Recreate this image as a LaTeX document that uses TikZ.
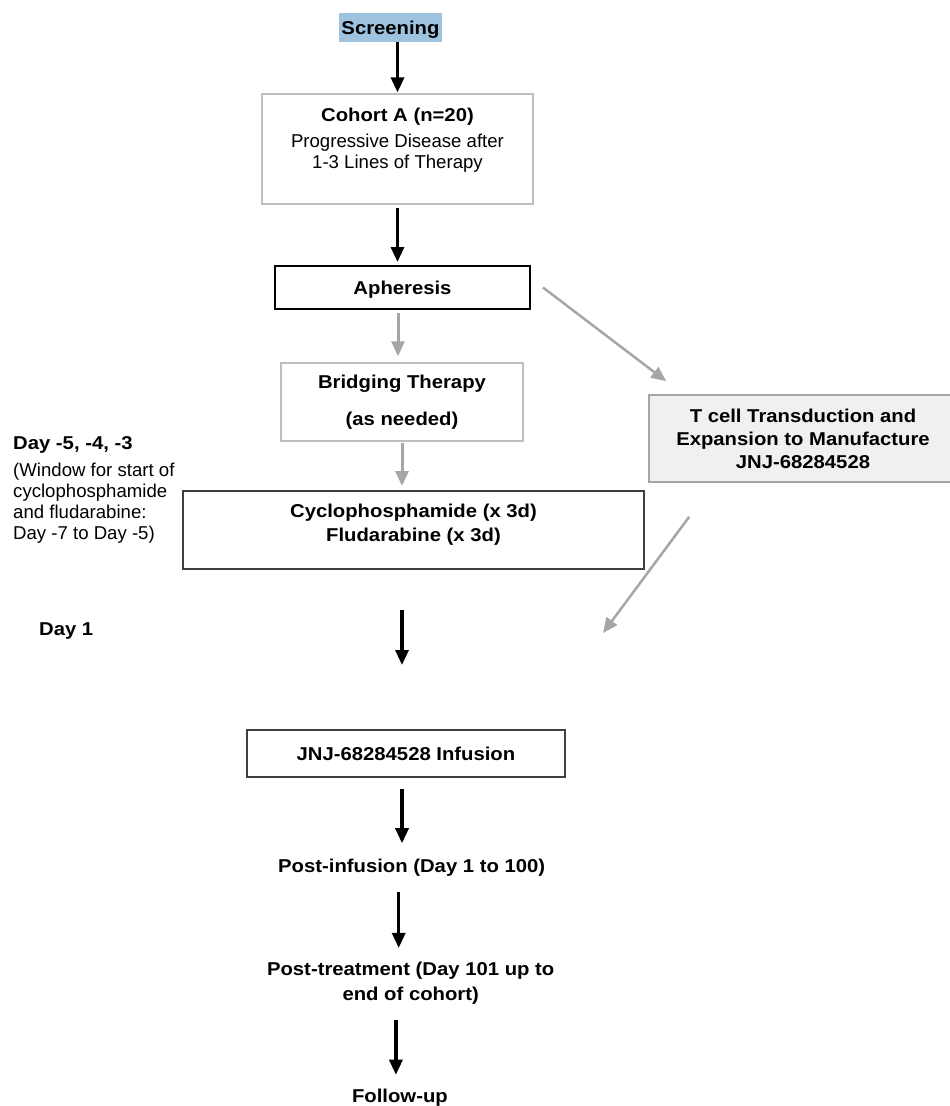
\documentclass[tikz,border=0pt]{standalone}
\usepackage{fontspec}
\setmainfont{Liberation Sans}[BoldFeatures={FakeStretch=1.09}]
\usetikzlibrary{arrows.meta}
\definecolor{scrblue}{HTML}{9EC3DE}
\definecolor{boxgray}{HTML}{BFBFBF}
\definecolor{arrgray}{HTML}{A6A6A6}
\definecolor{tcellfill}{HTML}{F0F0F0}
\newcommand{\fsz}{\fontsize{18.6}{21}\selectfont}
\begin{document}
\begin{tikzpicture}[x=1pt, y=-1pt, node distance={114.6pt},
    main/.style = {draw, rectangle, inner sep=0pt, align=center, font=\fsz\bfseries},
    txt/.style = {inner sep=0pt, align=center, font=\fsz\bfseries},
    arr/.style = {line width=3.2pt, -{Triangle[width=13pt, length=15pt]}},
    garr/.style = {arr, draw=arrgray, line width=3pt}]
      \useasboundingbox (0,0) rectangle (950,1106);

      \node[main, draw=none, fill=scrblue, minimum width=103pt, minimum height=29pt, text depth=0pt] (scr) at (390.5,27.5) {Screening};
      \node[main, font=\fsz, draw=boxgray, line width=1.2pt, minimum width=271pt, minimum height=110pt, text depth=21.5pt] (cohort) at (397.5,149) {\textbf{Cohort A (n=20)}\\[5pt]Progressive Disease after\\1-3 Lines of Therapy};
      \node[main, line width=2pt, minimum width=255pt, minimum height=43pt, text depth=0pt] (apher) at (402.5,287.5) {Apheresis};
      \node[main, draw=boxgray, line width=1.5pt, minimum width=242pt, minimum height=78pt] (bridge) at (402,402) {Bridging Therapy\\[16pt](as needed)};
      \node[main, draw=darkgray, line width=2pt, minimum width=461pt, minimum height=78pt, text depth=13.9pt] (cyclo) at (413.5,530) {Cyclophosphamide (x 3d)\\[3pt]Fludarabine (x 3d)};

      \node[main, draw=arrgray, fill=tcellfill, line width=1.5pt, minimum width=308pt, minimum height=87pt] (tcell) at (803,438.5) {T cell Transduction and\\[2pt]Expansion to Manufacture\\[2pt]JNJ-68284528};
      \coordinate (mfg) at (603,633);

      \node[txt, font=\fsz, align=left, anchor=north west] (window) at (13,436.5) {\textbf{Day -5, -4, -3}\\[6pt](Window for start of\\cyclophosphamide\\and fludarabine:\\Day -7 to Day -5)};
      \node[txt, anchor=base west] (day1) at (39,635) {Day 1};
      \coordinate (d1a) at (402,610);
      \coordinate (d1b) at (402,665);

      \node[main, draw=darkgray, line width=1.5pt, minimum width=318pt, minimum height=47pt, text depth=0pt] (inf) at (406,753.5) {JNJ-68284528 Infusion};
      \node[txt, below of=inf, xshift=5.7pt] (postinf) {Post-infusion (Day 1 to 100)};
      \node[txt, below of=postinf, xshift=-1pt] (posttreat) {Post-treatment (Day 101 up to\\[4pt]end of cohort)};
      \node[txt, below of=posttreat, xshift=-10.8pt] (follow) {Follow-up};


      \draw[arr, shorten >=1pt] (scr.south -| cohort.north) -- (cohort.north);
      \draw[arr, shorten <=3pt, shorten >=3pt] (cohort.south) -- (apher.north -| cohort.south);
      \draw[garr, shorten <=3pt, shorten >=6pt] ([xshift=-4.5pt]apher.south) -- ([xshift=-4pt]bridge.north);
      \draw[garr, shorten <=1pt, shorten >=4pt] (bridge.south) -- (cyclo.north -| bridge.south);
      \draw[garr, line width=2.5pt] ([xshift=12pt]apher.east) -- ([shift={(18,-13)}]tcell.north west);
      \draw[garr, line width=2.5pt] ([shift={(41,34)}]tcell.south west) -- (mfg);
      \draw[arr] (d1a) -- (d1b);
      \draw[arr, shorten <=11pt, shorten >=16pt] ([xshift=-4pt]inf.south) -- ([xshift=-4pt]inf.south |- postinf.north);
      \draw[arr, shorten <=15pt, shorten >=13.4pt] ([xshift=-13pt]postinf.south) -- ([xshift=-13pt]postinf.south |- posttreat.north);
      \draw[arr, shorten <=16pt, shorten >=13.7pt] ([xshift=-4pt]follow.north |- posttreat.south) -- ([xshift=-4pt]follow.north);
    \end{tikzpicture}
\end{document}
